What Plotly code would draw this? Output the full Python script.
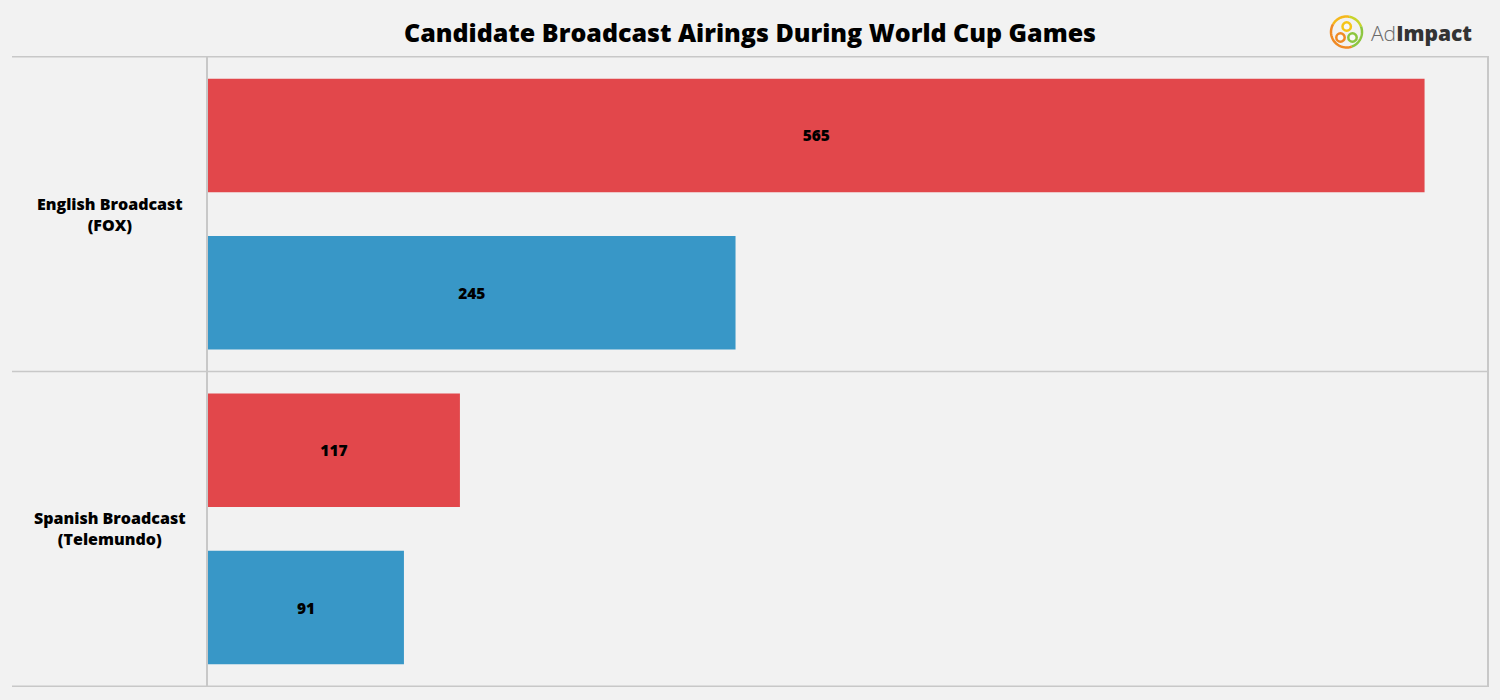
import math
import plotly.graph_objects as go

# ---- data ----
categories = ["English Broadcast<br>(FOX)", "Spanish Broadcast<br>(Telemundo)"]
red_values = [565, 117]
blue_values = [245, 91]
title_text = "Candidate Broadcast Airings During World Cup Games"

W, H = 1500, 700
ML, MR, MT, MB = 208, 13, 56, 13
PW, PH = W - ML - MR, H - MT - MB
FONT = "Open Sans"


def px2paper(px, py):
    return (px - ML) / PW, (H - MB - py) / PH


fig = go.Figure()
common = dict(orientation="h", textposition="inside", insidetextanchor="middle",
              textangle=0, constraintext="none",
              textfont=dict(family=FONT, size=15.5, color="#000000", weight=800),
              showlegend=False, hoverinfo="x+y")
fig.add_trace(go.Bar(y=categories, x=red_values, text=red_values, name="Red",
                     marker=dict(color="#E2474B", line=dict(width=0)), **common))
fig.add_trace(go.Bar(y=categories, x=blue_values, text=blue_values, name="Blue",
                     marker=dict(color="#3897C7", line=dict(width=0)), **common))

shapes = []
x_left, _ = px2paper(12, 0)
for b in [-0.5, 0.5, 1.5]:
    shapes.append(dict(type="line", xref="paper", yref="y", x0=x_left, x1=1, y0=b, y1=b,
                       line=dict(color="#C8C8C8", width=1.5), layer="above"))

# ---- logo ----
cx, cy, r = 1346.5, 32, 15.5


def arc(a0, a1, color, cx=cx, cy=cy, r=r, width=2.5):
    pts = []
    n = 30
    for i in range(n + 1):
        a = math.radians(a0 + (a1 - a0) * i / n)
        px = cx + r * math.cos(a)
        py = cy - r * math.sin(a)
        pts.append(px2paper(px, py))
    path = "M " + " L ".join(f"{x:.5f},{y:.5f}" for x, y in pts)
    return dict(type="path", xref="paper", yref="paper", path=path,
                line=dict(color=color, width=width))


shapes.append(arc(20, 80, "#C9D42B"))
shapes.append(arc(80, 150, "#F5B81C"))
shapes.append(arc(150, 290, "#F08A24"))
shapes.append(arc(290, 380, "#8CC63F"))


def ring(px, py, rr, color):
    x0, y0 = px2paper(px - rr, py + rr)
    x1, y1 = px2paper(px + rr, py - rr)
    return dict(type="circle", xref="paper", yref="paper", x0=x0, x1=x1, y0=y0, y1=y1,
                line=dict(color=color, width=2.5), fillcolor="#F8F8F8")


shapes.append(ring(1346.7, 26.5, 4.2, "#F5C518"))
shapes.append(ring(1340.5, 37.5, 4.2, "#F08A24"))
shapes.append(ring(1352.5, 37.5, 4.2, "#8CC63F"))

annotations = []
lx, _ = px2paper(110, 0)
for c in categories:
    annotations.append(dict(x=lx, xref="paper", y=c, yref="y", text=c, showarrow=False,
                            xanchor="center", yanchor="middle", align="center",
                            font=dict(family=FONT, size=16, color="#000000", weight=800)))
ax, ay = px2paper(1369, 33)
annotations.append(dict(x=ax, y=ay, xref="paper", yref="paper", xanchor="left", yanchor="middle",
                        showarrow=False,
                        text="<span style='font-weight:300;color:#6A6A6A'>Ad</span>"
                             "<span style='font-weight:800;color:#333333'>Impact</span>",
                        font=dict(family=FONT, size=21, color="#333333")))

fig.update_layout(
    width=W, height=H,
    margin=dict(l=ML, r=MR, t=MT, b=MB),
    paper_bgcolor="#F2F2F2", plot_bgcolor="#F2F2F2",
    barmode="group", bargap=0, bargroupgap=0.278,
    title=dict(text=title_text, x=0.5, xanchor="center", xref="container",
               y=1 - 33 / H, yanchor="middle", yref="container",
               font=dict(family=FONT, size=25, color="#000000", weight=800)),
    xaxis=dict(range=[0, 594], visible=False, fixedrange=True),
    yaxis=dict(type="category", autorange="reversed", showticklabels=False, showgrid=False,
               zeroline=False, showline=True, linecolor="#C8C8C8", linewidth=1.5, mirror=True,
               ticks=""),
    shapes=shapes,
    annotations=annotations,
)

fig.write_html("out.html")
